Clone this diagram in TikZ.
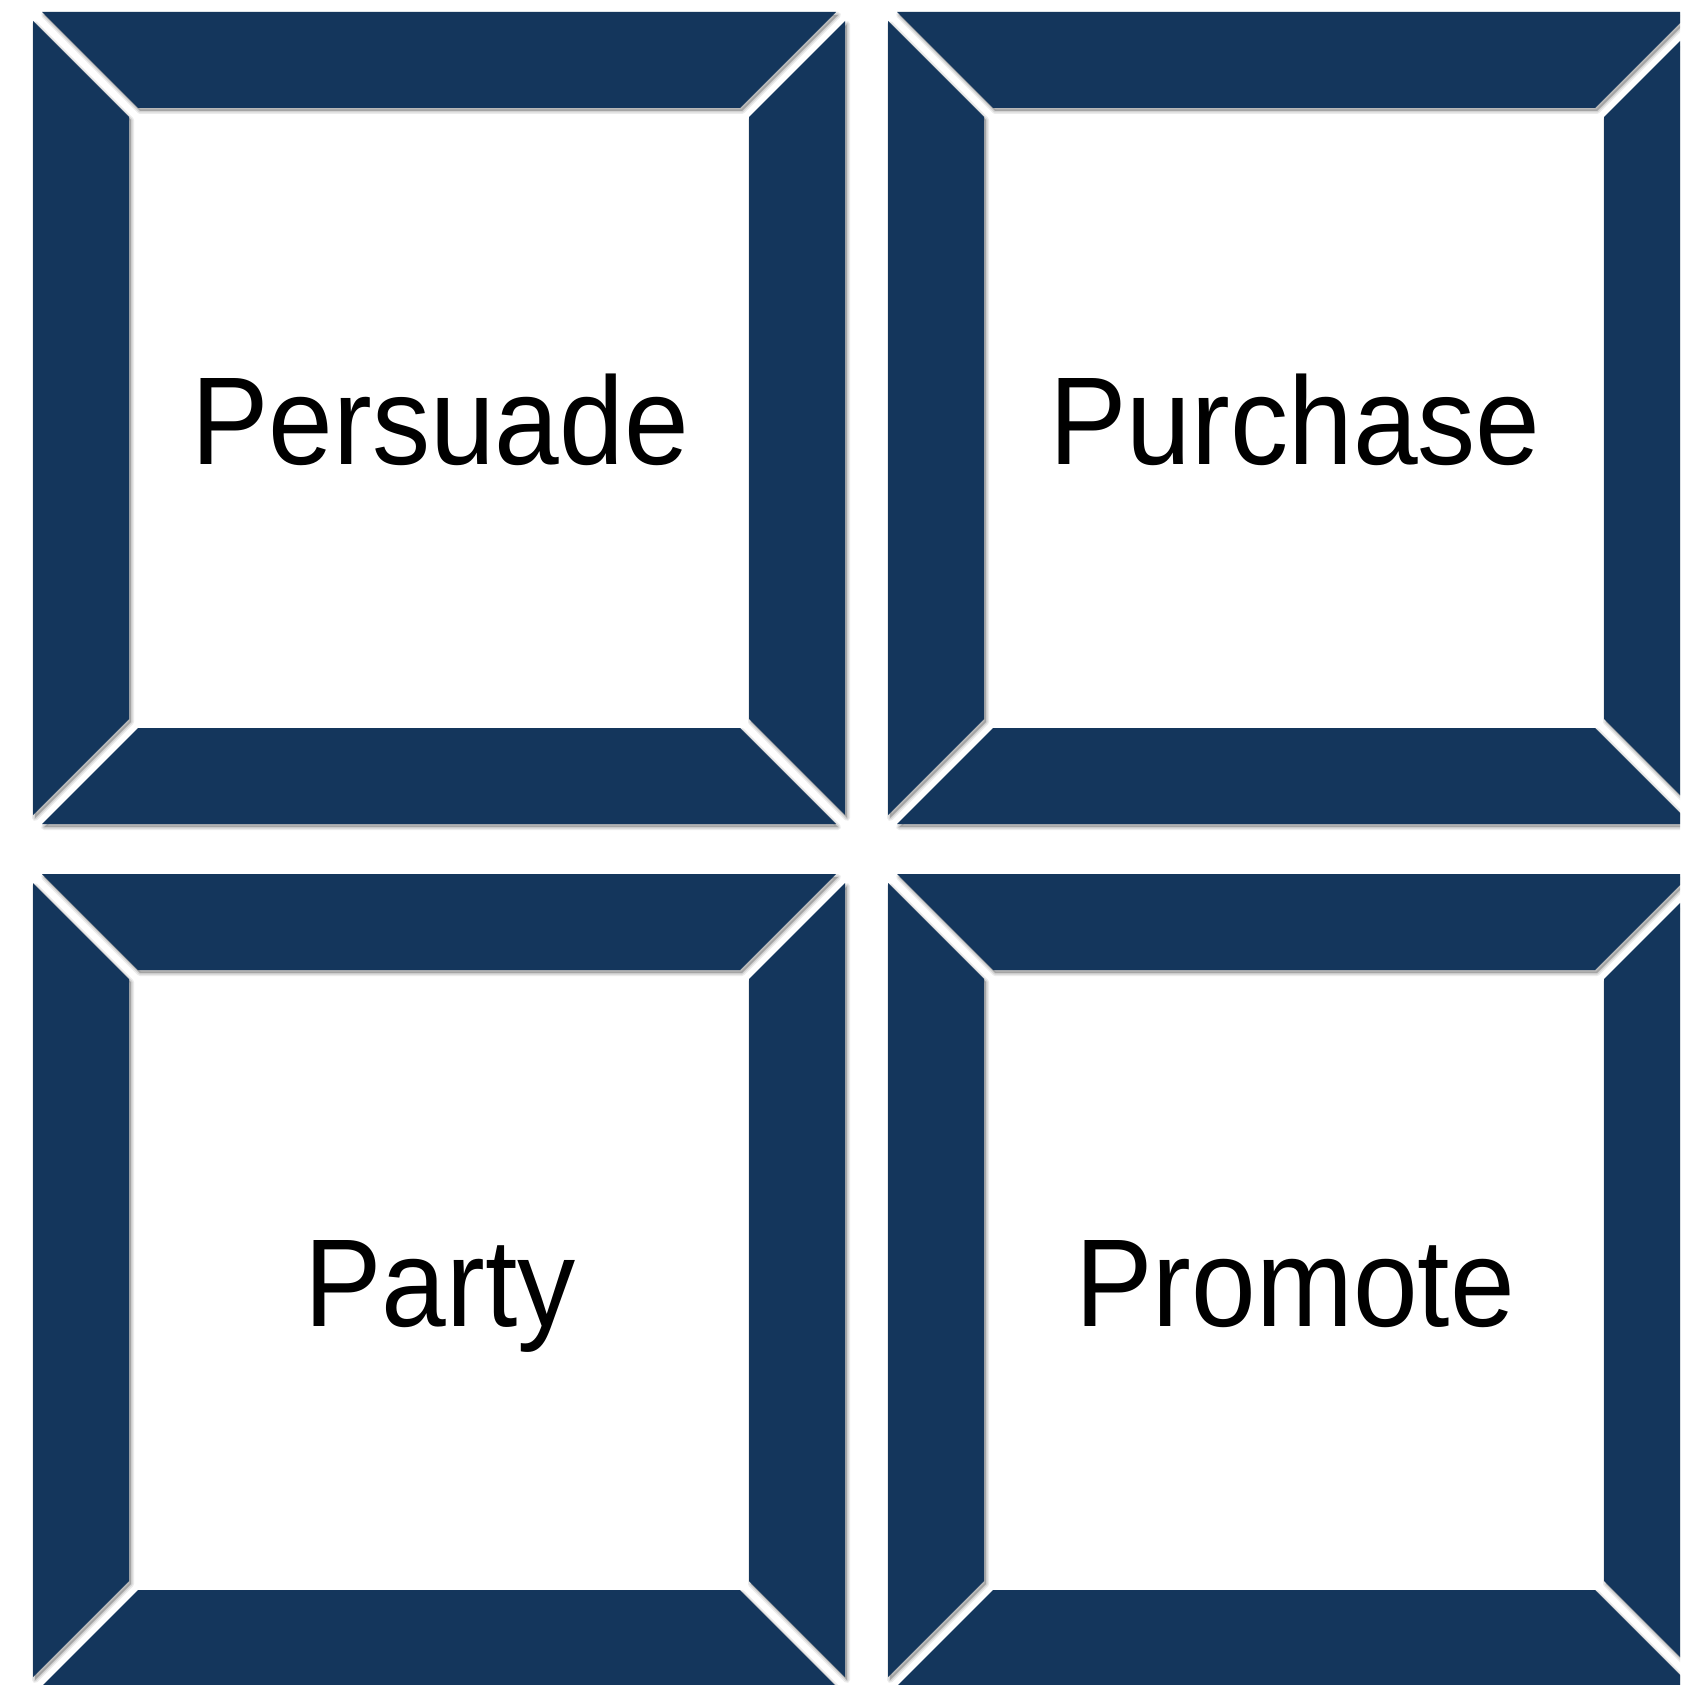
\documentclass[tikz,border=0pt]{standalone}
\usepackage{fontspec}
\setmainfont{Liberation Sans}[FakeStretch=0.93]
\definecolor{navy}{RGB}{20,54,92}
\tikzset{
  piece/.style={fill=navy, draw=none},
  pshadow/.style={fill=black, fill opacity=0.22, draw=black, draw opacity=0.08, line width=6pt, line join=round},
  pshadowin/.style={draw=black, draw opacity=0.10, line width=3pt, line join=round},
  label/.style={font=\fontsize{125}{140}\selectfont, text=black, inner sep=0pt, anchor=base}
}
\newcommand\bevelbox[4]{%
  \begin{scope}[shift={(#1,#2)}]
    \def\S{812}\def\b{96}\def\d{9}
    \begin{scope}[shift={(2,3)}]
      \foreach \st in {pshadow,pshadowin}{
      \path[\st] (\d,0)--(\S-\d,0)--(\S-\b-\d,\b)--(\b+\d,\b)--cycle;
      \path[\st] (\b+\d,\S-\b)--(\S-\b-\d,\S-\b)--(\S-\d,\S)--(\d,\S)--cycle;
      \path[\st] (0,\d)--(\b,\b+\d)--(\b,\S-\b-\d)--(0,\S-\d)--cycle;
      \path[\st] (\S,\d)--(\S,\S-\d)--(\S-\b,\S-\b-\d)--(\S-\b,\b+\d)--cycle;
      }
    \end{scope}
    \path[piece] (\d,0)--(\S-\d,0)--(\S-\b-\d,\b)--(\b+\d,\b)--cycle;
    \path[piece] (\b+\d,\S-\b)--(\S-\b-\d,\S-\b)--(\S-\d,\S)--(\d,\S)--cycle;
    \path[piece] (0,\d)--(\b,\b+\d)--(\b,\S-\b-\d)--(0,\S-\d)--cycle;
    \path[piece] (\S,\d)--(\S,\S-\d)--(\S-\b,\S-\b-\d)--(\S-\b,\b+\d)--cycle;
    \node[label] (#3) at (407,452) {#4};
  \end{scope}}
\begin{document}
\begin{tikzpicture}[x=1pt,y=-1pt]
  \useasboundingbox[fill=white] (0,0) rectangle (1680,1685);
  \begin{scope}
    \clip (0,0) rectangle (1680,1685);
    \bevelbox{33}{12}{persuade}{Persuade}
    \bevelbox{888}{12}{purchase}{Purchase}
    \bevelbox{33}{874}{party}{Party}
    \bevelbox{888}{874}{promote}{Promote}
  \end{scope}
\end{tikzpicture}
\end{document}
